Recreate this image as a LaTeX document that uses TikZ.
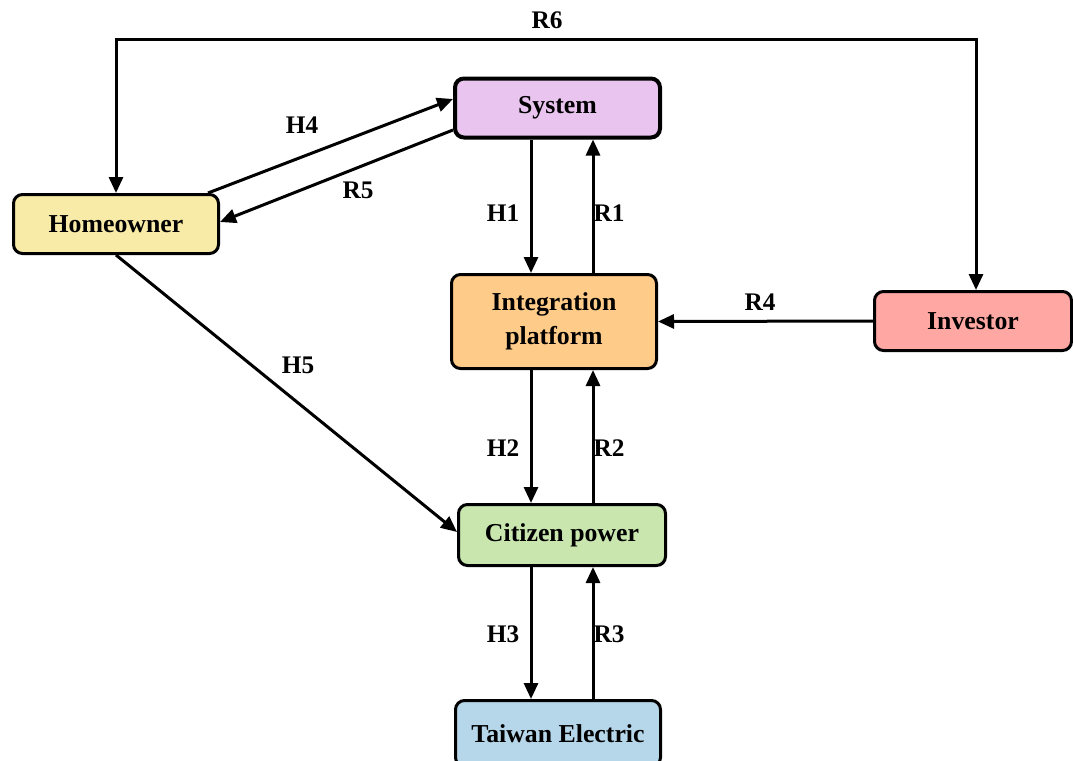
\documentclass[tikz,border=0pt]{standalone}
\usepackage{fontspec}
\setmainfont{Liberation Serif}
\usetikzlibrary{arrows.meta,calc}
\definecolor{csys}{HTML}{E8C4EE}
\definecolor{chome}{HTML}{F8EBA8}
\definecolor{cinv}{HTML}{FFA8A3}
\definecolor{cint}{HTML}{FFCB88}
\definecolor{ccit}{HTML}{C8E6AE}
\definecolor{ctai}{HTML}{B6D6EA}
\begin{document}
\begin{tikzpicture}[x=1pt,y=-1pt,
  box/.style={draw=black,line width=3pt,rounded corners=9pt,align=center,
    font=\fontsize{25.8}{34}\selectfont\bfseries,inner sep=0pt},
  arr/.style={line width=3pt,-{Triangle[length=16pt,width=14pt]}},
  darr/.style={line width=3pt,{Triangle[length=16pt,width=14pt]}-{Triangle[length=16pt,width=14pt]}},
  lbl/.style={font=\fontsize{25.3}{28}\selectfont\bfseries,inner sep=0pt}]
\useasboundingbox (0,0) rectangle (1073,760);
\node[box,fill=csys,line width=4pt,minimum width=205pt,minimum height=59pt] (sys) at (557.5,108) {System};
\node[box,fill=chome,minimum width=205pt,minimum height=59pt] (home) at (116,224) {Homeowner};
\node[box,fill=cinv,minimum width=197pt,minimum height=59pt] (inv) at (973,321) {Investor};
\node[box,fill=cint,minimum width=205pt,minimum height=94pt] (int) at (554,321.5) {Integration\\platform};
\node[box,fill=ccit,minimum width=207pt,minimum height=61pt] (cit) at (562,535) {Citizen power};
\node[box,fill=ctai,minimum width=205pt,minimum height=66pt] (tai) at (558,733.5) {Taiwan Electric};
\coordinate (xa) at (531,0);
\coordinate (xb) at (593,0);
\coordinate (top) at (0,40);
% vertical pairs
\draw[arr] (sys.south -| xa) -- (int.north -| xa);
\draw[arr] (int.north -| xb) -- (sys.south -| xb);
\draw[arr] (int.south -| xa) -- (cit.north -| xa);
\draw[arr] (cit.north -| xb) -- (int.south -| xb);
\draw[arr] (cit.south -| xa) -- (tai.north -| xa);
\draw[arr] (tai.north -| xb) -- (cit.south -| xb);
% R4
\draw[arr] (inv.west) -- (int.east);
% H4, R5, H5
\draw[arr] ([xshift=-12pt]home.north east) -- ([yshift=9pt]sys.west);
\draw[arr] ([yshift=-22pt]sys.west) -- ([yshift=2pt]home.east);
\draw[arr] (home.south) -- ([yshift=3pt]cit.west);
% R6
\draw[darr,line join=miter] ([xshift=3pt]inv.north) -- ([xshift=3pt]inv.north |- top) -- (home.north |- top) -- (home.north);
% labels
\node[lbl] (lr6) at (547,20) {R6};
\node[lbl] (lh4) at (302,125) {H4};
\node[lbl] (lr5) at (358,190) {R5};
\node[lbl] (lh1) at (503,213) {H1};
\node[lbl] (lr1) at (609,213) {R1};
\node[lbl] (lr4) at (760,302) {R4};
\node[lbl] (lh5) at (298,365) {H5};
\node[lbl] (lh2) at (503,448) {H2};
\node[lbl] (lr2) at (609,448) {R2};
\node[lbl] (lh3) at (503,634) {H3};
\node[lbl] (lr3) at (609,634) {R3};
\end{tikzpicture}
\end{document}
